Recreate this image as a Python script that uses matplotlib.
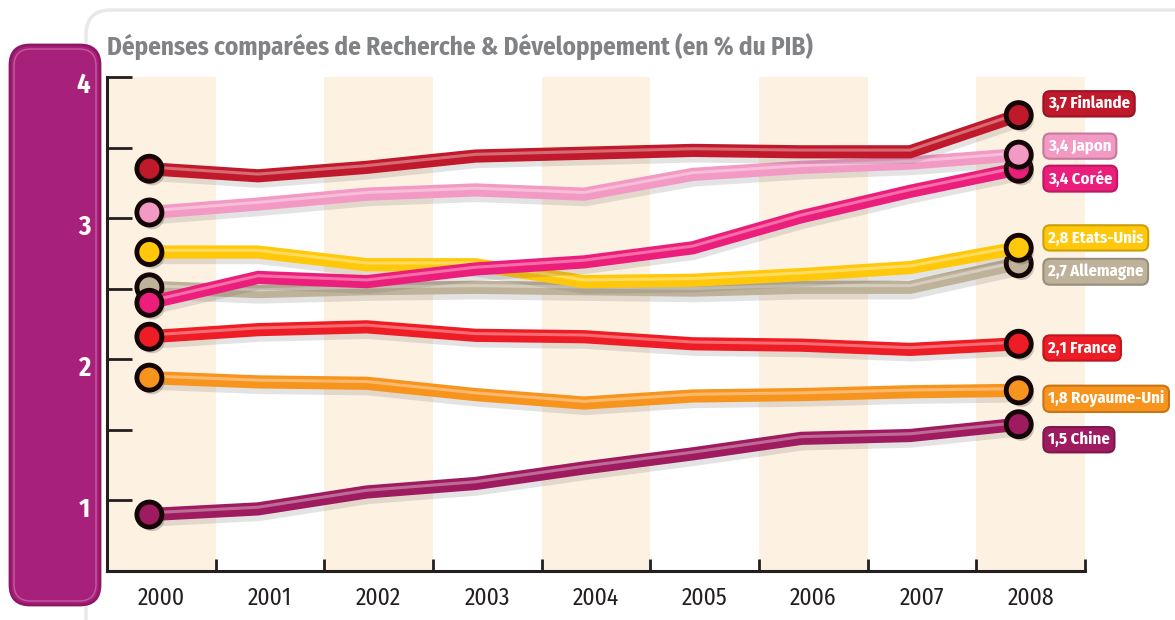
import matplotlib
matplotlib.use("Agg")
import matplotlib.pyplot as plt
import matplotlib.patheffects as pe
from matplotlib.patches import FancyBboxPatch, Rectangle
from matplotlib.colors import to_rgb
from matplotlib.transforms import ScaledTranslation
import numpy as np

# data (R&D spending, % of GDP)
years = [2000, 2001, 2002, 2003, 2004, 2005, 2006, 2007, 2008]
finlande = [3.35, 3.30, 3.36, 3.44, 3.46, 3.48, 3.47, 3.47, 3.73]
japon = [3.04, 3.10, 3.17, 3.20, 3.17, 3.31, 3.36, 3.39, 3.45]
coree = [2.40, 2.58, 2.55, 2.64, 2.69, 2.79, 3.01, 3.19, 3.35]
etats_unis = [2.76, 2.76, 2.67, 2.67, 2.55, 2.56, 2.60, 2.65, 2.79]
allemagne = [2.51, 2.48, 2.50, 2.51, 2.50, 2.49, 2.51, 2.51, 2.68]
france = [2.16, 2.21, 2.23, 2.17, 2.16, 2.11, 2.10, 2.07, 2.11]
royaume_uni = [1.87, 1.84, 1.83, 1.75, 1.69, 1.74, 1.75, 1.77, 1.78]
chine = [0.90, 0.94, 1.06, 1.12, 1.23, 1.33, 1.44, 1.46, 1.54]

pays = ["Chine", "Royaume-Uni", "France", "Allemagne", "Etats-Unis", "Corée", "Japon", "Finlande"]
series = [chine, royaume_uni, france, allemagne, etats_unis, coree, japon, finlande]
etiquettes = ["1,5", "1,8", "2,1", "2,7", "2,8", "3,4", "3,4", "3,7"]
couleurs = ["#9E1B5F", "#F7941D", "#EE1C25", "#BFB29A", "#FFC80A", "#EC1E7B", "#F29AC4", "#C0192B"]
# vertical nudges for the end labels so they don't collide
decalage = [-0.11, -0.06, -0.03, -0.06, 0.07, -0.07, 0.06, 0.08]

titre = "Dépenses comparées de Recherche & Développement (en % du PIB)"
FONT = ["Fira Sans Condensed", "DejaVu Sans"]


def eclaircir(c, f):
    r, g, b = to_rgb(c)
    return (r + (1 - r) * f, g + (1 - g) * f, b + (1 - b) * f)


def assombrir(c, f):
    r, g, b = to_rgb(c)
    return (r * (1 - f), g * (1 - f), b * (1 - f))


fig = plt.figure(figsize=(11.75, 6.2), dpi=100)
fig.patch.set_facecolor("white")

# card behind the chart
carte = FancyBboxPatch((0.86, -0.3), 11.5, 6.4, boxstyle="round,pad=0,rounding_size=0.25",
                       transform=fig.dpi_scale_trans, fc="white", ec="#e8e8e8", lw=2.5, zorder=0)
fig.patches.append(carte)

# purple side bar
barre = FancyBboxPatch((0.10, 0.15), 0.90, 5.60, boxstyle="round,pad=0,rounding_size=0.2",
                       transform=fig.dpi_scale_trans, fc="#A7217A", ec="#8E1866", lw=2, zorder=1)
fig.patches.append(barre)
barre2 = FancyBboxPatch((0.14, 0.19), 0.82, 5.52, boxstyle="round,pad=0,rounding_size=0.17",
                        transform=fig.dpi_scale_trans, fc="none", ec="#C75A9F", lw=1, zorder=1)
fig.patches.append(barre2)

ax = fig.add_axes([107 / 1175, 1 - 571 / 620, (1085 - 107) / 1175, (571 - 77) / 620])
ax.set_zorder(2)
ax.patch.set_alpha(0)
ax.set_xlim(1999.5, 2008.5)
ax.set_ylim(0.5, 4.0)

# alternating beige bands
for i, an in enumerate(years):
    if i % 2 == 0:
        ax.add_patch(Rectangle((an - 0.5, 0.5), 1, 3.5, fc="#FDF1E2", ec="none", zorder=0))

x_pts = np.array(years) - 0.11
for k, (nom, vals, coul) in enumerate(zip(pays, series, couleurs)):
    z = 3 + k
    ax.plot(x_pts, vals, color=coul, lw=9.5, solid_joinstyle="miter", solid_capstyle="butt", zorder=z,
            path_effects=[pe.SimpleLineShadow(offset=(1, -4), shadow_color="#555555", alpha=0.16),
                          pe.Normal()])
    ax.plot(x_pts, np.array(vals) + 0.012, color=eclaircir(coul, 0.35), lw=2.2, zorder=z + 0.1)
    ax.plot(x_pts[[0, -1]], [vals[0], vals[-1]], "o", ms=18, mfc=coul, mec="#140606",
            mew=3.5, zorder=z + 0.2,
            path_effects=[pe.SimplePatchShadow(offset=(2, -3), shadow_rgbFace="#444444", alpha=0.25),
                          pe.Normal()])
    ax.text(2008.16, vals[-1] + decalage[k], f"{etiquettes[k]} {nom}", ha="left", va="center",
            color="white", fontsize=12, fontweight="bold", family=FONT, fontstretch="condensed",
            zorder=20, clip_on=False,
            bbox=dict(boxstyle="round,pad=0.28,rounding_size=0.4", fc=coul, ec=assombrir(coul, 0.2), lw=1.5))

for s in ("top", "right"):
    ax.spines[s].set_visible(False)
for s in ("left", "bottom"):
    ax.spines[s].set_linewidth(2.2)
    ax.spines[s].set_color("#231f20")

ax.set_yticks([1, 2, 3, 4])
ax.set_yticks([0.5, 1.5, 2.5, 3.5], minor=True)
ax.set_yticklabels(["1", "2", "3", "4"])
ax.tick_params(axis="y", which="both", direction="in", length=18, width=2, color="#231f20",
               pad=12, labelcolor="white", labelsize=19)
for lab in ax.get_yticklabels():
    lab.set_fontweight("bold")
    lab.set_family(FONT)
    lab.set_fontstretch("condensed")
    lab.set_transform(lab.get_transform() + ScaledTranslation(0, -0.06, fig.dpi_scale_trans))

ax.set_xticks(years)
ax.set_xticklabels([str(a) for a in years])
ax.set_xticks(np.arange(2000.5, 2009, 1.0), minor=True)
ax.tick_params(axis="x", which="major", length=0, pad=11, labelsize=17, labelcolor="#231f20")
ax.tick_params(axis="x", which="minor", direction="in", length=9, width=2, color="#231f20")
for lab in ax.get_xticklabels():
    lab.set_family(FONT)
    lab.set_fontstretch("condensed")

t = fig.text(107 / 1175, 1 - 47 / 620, titre, ha="left", va="center", fontsize=19,
             fontweight="bold", color="#808285", family=FONT, fontstretch="condensed")
# fit title to the width it has in the original (about 708 px)
larg = t.get_window_extent(fig.canvas.get_renderer()).width
t.set_fontsize(19 * 708 / larg)

fig.savefig("out.png", dpi=100)
